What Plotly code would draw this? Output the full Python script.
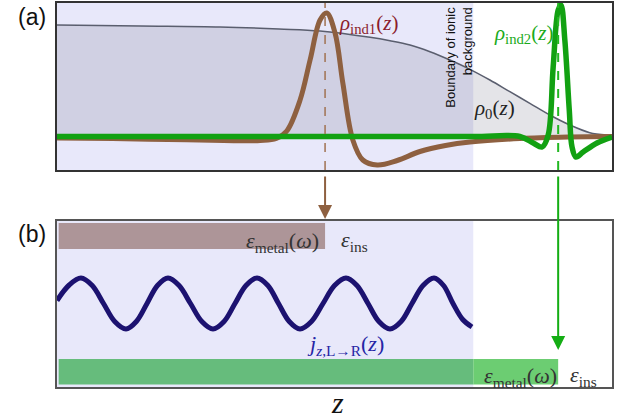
import plotly.graph_objects as go

# ---------------- data ----------------
# panel (a): z position (0..100, arbitrary units) and densities (arbitrary units)
z_rho0 = [0, 15, 29.4, 40, 47.4, 56.4, 60.0, 63.6, 67.2, 70.8, 74.4, 78.0, 81.6, 85.2, 88.8,
          92.4, 96.0, 99.6, 100]
rho0 = [11.15, 11.05, 10.95, 10.75, 10.55, 9.92, 9.58, 9.15, 8.48, 7.65, 6.72, 5.65, 4.48, 3.32, 2.15,
        1.15, 0.38, 0.12, 0.1]

z_ind1 = [0, 10, 20, 30, 36.6, 39.5, 41.4, 43.8, 45.6, 47.4, 48.6, 50.1, 51.5, 53.3, 55.1,
          57.7, 61.3, 65.4, 70.0, 74.4, 83.4, 92.4, 100]
rho_ind1 = [-0.15, -0.2, -0.3, -0.4, -0.4, -0.2, 0.55, 3.65, 7.65, 11.65, 12.35, 10.35, 5.35, -0.35,
            -2.35, -2.85, -2.4, -1.5, -0.9, -0.55, -0.2, -0.05, 0]

z_ind2 = [0, 25, 50, 75, 83.4, 85.8, 87.4, 88.5, 89.4, 90.3, 90.8, 91.5, 92.3, 92.8, 93.5, 94.8, 97.3, 100]
rho_ind2 = [0, 0, 0, 0, 0, -0.65, -1.05, 0.15, 6.95, 12.65, 13.15, 9.65, 2.65, -1.05, -2.05, -1.55,
            -0.65, -0.05]

# panel (b): current density wave
z_j = [0, 2.2, 4.32, 6.35, 8.38, 10.4, 12.43, 14.3, 16.22, 18.1, 20.0, 22.0, 24.05, 26.1, 28.11,
       30.1, 32.07, 34.05, 36.04, 38.0, 39.91, 41.85, 43.78, 45.85, 47.93, 50.0, 52.07, 54.05,
       56.04, 58.0, 60.0, 62.0, 63.96, 65.95, 67.93, 69.65, 71.35, 73.1, 74.77]
j_val = [0.3, 1.85, 2.55, 1.8, 0, -1.8, -2.55, -1.8, 0, 1.8, 2.55, 1.8, 0, -1.8, -2.55,
         -1.8, 0, 1.8, 2.55, 1.8, 0, -1.8, -2.55, -1.8, 0, 1.8, 2.55, 1.8,
         0, -1.8, -2.55, -1.8, 0, 1.8, 2.55, 1.8, 0, -1.6, -2.35]

z_ionic_boundary = 75.0   # boundary of ionic background
z_peak1 = 48.3            # position of rho_ind1 peak -> metal edge 1
z_peak2 = 90.3            # position of rho_ind2 peak -> metal edge 2

# ---------------- styles ----------------
BROWN = "#8e6040"
GREEN = "#12a112"
NAVY = "#1c1270"
LAV = "#e8e8fa"
SERIF = "Liberation Serif"

fig = go.Figure()

fig.add_trace(go.Scatter(x=z_rho0, y=rho0, mode="lines", line=dict(color="#5a5e6e", width=1.5, shape="spline"),
                         fill="tozeroy", fillcolor="rgba(90,90,110,0.16)", xaxis="x", yaxis="y",
                         hoverinfo="skip"))
fig.add_trace(go.Scatter(x=z_ind1, y=rho_ind1, mode="lines", line=dict(color=BROWN, width=5, shape="spline"),
                         xaxis="x", yaxis="y", hoverinfo="skip"))
fig.add_trace(go.Scatter(x=z_ind2, y=rho_ind2, mode="lines", line=dict(color=GREEN, width=5.5, shape="spline"),
                         xaxis="x", yaxis="y", hoverinfo="skip"))
fig.add_trace(go.Scatter(x=z_j, y=j_val, mode="lines", line=dict(color=NAVY, width=5, shape="spline"),
                         xaxis="x2", yaxis="y2", hoverinfo="skip"))

W, H = 621, 419
xdom = [57 / W, 612 / W]
axstyle = dict(showline=True, mirror=True, showticklabels=False, ticks="", showgrid=False,
               zeroline=False, fixedrange=True)

fig.update_layout(
    width=W, height=H, margin=dict(l=0, r=0, t=0, b=0),
    paper_bgcolor="white", plot_bgcolor="white", showlegend=False,
    xaxis=dict(domain=xdom, range=[0, 100], anchor="y", linecolor="#333", linewidth=1.5, **axstyle),
    yaxis=dict(domain=[1 - 170 / H, 1 - 3 / H], range=[-3.35, 13.35], anchor="x",
               linecolor="#333", linewidth=1.5, **axstyle),
    xaxis2=dict(domain=xdom, range=[0, 100], anchor="y2", linecolor="#555", linewidth=1.5, **axstyle),
    yaxis2=dict(domain=[1 - 387 / H, 1 - 221 / H], range=[-8.35, 8.25], anchor="x2",
                linecolor="#555", linewidth=1.5, **axstyle),
)

shapes = [
    # lavender metal regions
    dict(type="rect", xref="x", yref="y domain", x0=0, x1=z_ionic_boundary, y0=0, y1=1,
         fillcolor=LAV, line_width=0, layer="below"),
    dict(type="rect", xref="x2", yref="y2 domain", x0=0, x1=z_ionic_boundary, y0=0, y1=1,
         fillcolor=LAV, line_width=0, layer="below"),
    # epsilon bars in (b)
    dict(type="rect", xref="x2", yref="y2", x0=0.3, x1=z_peak1, y0=5.45, y1=8.05,
         fillcolor="#ad9598", line_width=0, layer="below"),
    dict(type="rect", xref="x2", yref="y2", x0=0.3, x1=z_ionic_boundary, y0=-8.1, y1=-5.55,
         fillcolor="#66bc7c", line_width=0, layer="below"),
    dict(type="rect", xref="x2", yref="y2", x0=z_ionic_boundary, x1=z_peak2, y0=-8.1, y1=-5.55,
         fillcolor="#6ccd72", line_width=0, layer="below"),
    # dashed markers in (a)
    dict(type="line", xref="x", yref="y domain", x0=z_peak1, x1=z_peak1, y0=0, y1=1,
         line=dict(color="#a07252", width=1.5, dash="dash"), layer="above"),
    dict(type="line", xref="x", yref="y domain", x0=z_peak2, x1=z_peak2, y0=0, y1=1,
         line=dict(color="#22b822", width=2, dash="dash"), layer="above"),
]
fig.update_layout(shapes=shapes)


def py_paper(py):
    return 1 - py / H


C = dict(xanchor="center", yanchor="middle", showarrow=False)
ann = [
    dict(text="(a)", xref="paper", yref="paper", x=32 / W, y=py_paper(17),
         font=dict(family="Liberation Sans", size=23, color="#111"), **C),
    dict(text="(b)", xref="paper", yref="paper", x=32 / W, y=py_paper(234),
         font=dict(family="Liberation Sans", size=23, color="#111"), **C),
    dict(text="<i>ρ</i><sub>ind1</sub>(<i>z</i>)", xref="x", yref="y", x=56.2, y=11.3,
         font=dict(family=SERIF, size=21, color="#8b1c2c"), **C),
    dict(text="<i>ρ</i><sub>ind2</sub>(<i>z</i>)", xref="x", yref="y", x=84.0, y=10.3,
         font=dict(family=SERIF, size=21, color="#1aaa1a"), **C),
    dict(text="<i>ρ</i><sub>0</sub>(<i>z</i>)", xref="x", yref="y", x=78.9, y=2.8,
         font=dict(family=SERIF, size=21, color="#222"), **C),
    dict(text="Boundary of ionic<br>background", xref="x", yref="y", x=72.3, y=7.9,
         textangle=-90, align="right",
         font=dict(family="Liberation Sans", size=13, color="#111"), **C),
    dict(text="<i>ε</i><sub>metal</sub>(<i>ω</i>)", xref="x2", yref="y2", x=47.6, y=6.1, xanchor="right",
         yanchor="middle", showarrow=False, font=dict(family=SERIF, size=22, color="#333")),
    dict(text="<i>ε</i><sub>ins</sub>", xref="x2", yref="y2", x=53.6, y=6.2,
         font=dict(family=SERIF, size=22, color="#333"), **C),
    dict(text="<i>j</i><sub><i>z</i>,L→R</sub>(<i>z</i>)", xref="x2", yref="y2", x=51.9, y=-4.1,
         font=dict(family=SERIF, size=22, color="#2525a5"), **C),
    dict(text="<i>ε</i><sub>metal</sub>(<i>ω</i>)", xref="x2", yref="y2", x=83.6, y=-7.3,
         font=dict(family=SERIF, size=22, color="#333"), **C),
    dict(text="<i>ε</i><sub>ins</sub>", xref="x2", yref="y2", x=94.8, y=-7.2,
         font=dict(family=SERIF, size=22, color="#333"), **C),
    dict(text="<i>z</i>", xref="paper", yref="paper", x=337 / W, y=py_paper(402),
         font=dict(family=SERIF, size=30, color="#111"), **C),
    # arrows from (a) peaks to (b)
    dict(text="", xref="x2", yref="paper", x=z_peak1, y=py_paper(219), ax=0, ay=-44,
         showarrow=True, arrowhead=2, arrowsize=1.4, arrowwidth=2, arrowcolor=BROWN),
    dict(text="", xref="x2", yref="paper", x=z_peak2, y=py_paper(350), ax=0, ay=-175,
         showarrow=True, arrowhead=2, arrowsize=1.4, arrowwidth=2, arrowcolor="#14ad14"),
]
fig.update_layout(annotations=ann)

fig.write_html("out.html")
